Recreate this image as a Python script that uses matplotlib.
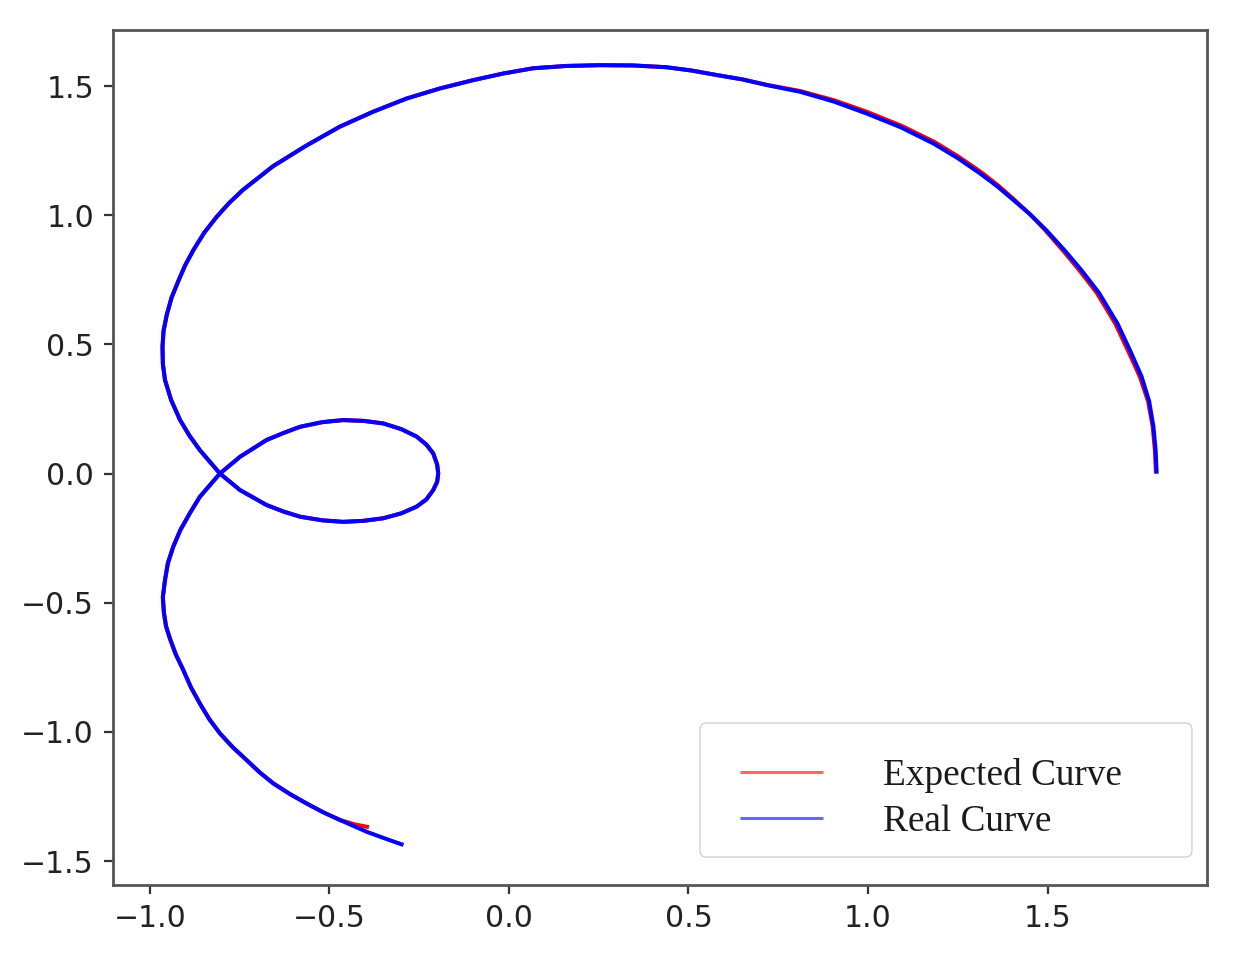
import matplotlib
matplotlib.use("Agg")
import matplotlib.pyplot as plt
from matplotlib.patches import FancyBboxPatch

# Real curve (blue)
real_x = [1.804, 1.801, 1.795, 1.783, 1.762, 1.732, 1.695, 1.643, 1.594, 1.547,
          1.496, 1.452, 1.405, 1.360, 1.312, 1.249, 1.182, 1.092, 0.996, 0.905,
          0.811, 0.718, 0.650, 0.578, 0.510, 0.439, 0.345, 0.253, 0.160, 0.067,
          -0.015, -0.100, -0.192, -0.285, -0.378, -0.471, -0.564, -0.657, -0.741, -0.779,
          -0.814, -0.849, -0.879, -0.902, -0.921, -0.940, -0.953, -0.962, -0.965, -0.964,
          -0.958, -0.941, -0.916, -0.890, -0.861, -0.805, -0.749, -0.675, -0.628, -0.582,
          -0.520, -0.462, -0.405, -0.350, -0.300, -0.257, -0.230, -0.211, -0.200, -0.197,
          -0.200, -0.211, -0.230, -0.257, -0.300, -0.350, -0.405, -0.462, -0.520, -0.582,
          -0.628, -0.675, -0.749, -0.805, -0.861, -0.889, -0.915, -0.935, -0.950, -0.958,
          -0.964, -0.961, -0.955, -0.944, -0.928, -0.907, -0.886, -0.861, -0.835, -0.805,
          -0.769, -0.731, -0.695, -0.657, -0.611, -0.564, -0.518, -0.471, -0.396, -0.345,
          -0.294]
real_y = [0.000, 0.090, 0.181, 0.280, 0.375, 0.470, 0.580, 0.700, 0.788, 0.865,
          0.943, 1.003, 1.059, 1.112, 1.162, 1.222, 1.278, 1.340, 1.394, 1.440,
          1.478, 1.504, 1.526, 1.543, 1.560, 1.573, 1.580, 1.581, 1.578, 1.569,
          1.549, 1.523, 1.491, 1.452, 1.401, 1.343, 1.270, 1.190, 1.098, 1.048,
          0.994, 0.932, 0.865, 0.806, 0.745, 0.680, 0.615, 0.553, 0.491, 0.425,
          0.362, 0.285, 0.207, 0.147, 0.091, 0.000, -0.064, -0.122, -0.147, -0.167,
          -0.181, -0.187, -0.183, -0.173, -0.154, -0.128, -0.100, -0.064, -0.032, 0.000,
          0.035, 0.078, 0.112, 0.143, 0.172, 0.194, 0.204, 0.207, 0.199, 0.181,
          0.157, 0.130, 0.065, 0.000, -0.090, -0.154, -0.218, -0.283, -0.347, -0.412,
          -0.478, -0.540, -0.592, -0.640, -0.700, -0.761, -0.827, -0.890, -0.950, -1.006,
          -1.060, -1.109, -1.156, -1.199, -1.240, -1.277, -1.311, -1.341, -1.387, -1.413,
          -1.438]

# Expected curve (red)
exp_x = [1.802, 1.799, 1.793, 1.780, 1.757, 1.726, 1.689, 1.637, 1.588, 1.542,
         1.493, 1.451, 1.406, 1.362, 1.315, 1.252, 1.185, 1.094, 0.998, 0.906,
         0.811, 0.718, 0.650, 0.578, 0.510, 0.439, 0.345, 0.253, 0.160, 0.067,
         -0.015, -0.100, -0.192, -0.285, -0.378, -0.471, -0.564, -0.657, -0.741, -0.779,
         -0.814, -0.849, -0.879, -0.902, -0.921, -0.940, -0.953, -0.962, -0.965, -0.964,
         -0.958, -0.941, -0.916, -0.890, -0.861, -0.805, -0.749, -0.675, -0.628, -0.582,
         -0.520, -0.462, -0.405, -0.350, -0.300, -0.257, -0.230, -0.211, -0.200, -0.197,
         -0.200, -0.211, -0.230, -0.257, -0.300, -0.350, -0.405, -0.462, -0.520, -0.582,
         -0.628, -0.675, -0.749, -0.805, -0.861, -0.889, -0.915, -0.935, -0.950, -0.958,
         -0.964, -0.961, -0.955, -0.944, -0.928, -0.907, -0.886, -0.861, -0.835, -0.805,
         -0.769, -0.731, -0.695, -0.657, -0.611, -0.564, -0.518, -0.471, -0.430, -0.390]
exp_y = [0.000, 0.090, 0.181, 0.280, 0.375, 0.470, 0.580, 0.700, 0.788, 0.865,
         0.943, 1.004, 1.062, 1.116, 1.167, 1.227, 1.284, 1.346, 1.400, 1.445,
         1.481, 1.505, 1.526, 1.543, 1.560, 1.573, 1.580, 1.581, 1.578, 1.569,
         1.549, 1.523, 1.491, 1.452, 1.401, 1.343, 1.270, 1.190, 1.098, 1.048,
         0.994, 0.932, 0.865, 0.806, 0.745, 0.680, 0.615, 0.553, 0.491, 0.425,
         0.362, 0.285, 0.207, 0.147, 0.091, 0.000, -0.064, -0.122, -0.147, -0.167,
         -0.181, -0.187, -0.183, -0.173, -0.154, -0.128, -0.100, -0.064, -0.032, 0.000,
         0.035, 0.078, 0.112, 0.143, 0.172, 0.194, 0.204, 0.207, 0.199, 0.181,
         0.157, 0.130, 0.065, 0.000, -0.090, -0.154, -0.218, -0.283, -0.347, -0.412,
         -0.478, -0.540, -0.592, -0.640, -0.700, -0.761, -0.827, -0.890, -0.950, -1.006,
         -1.060, -1.109, -1.156, -1.199, -1.240, -1.277, -1.311, -1.341, -1.358, -1.369]

labels = ["Expected Curve", "Real Curve"]
x_ticks = [-1.0, -0.5, 0.0, 0.5, 1.0, 1.5]
y_ticks = [-1.5, -1.0, -0.5, 0.0, 0.5, 1.0, 1.5]

fig = plt.figure(figsize=(12.48, 9.57), dpi=100)
ax = fig.add_axes([0.0905, 0.0752, 0.8766, 0.8934])

ax.plot(exp_x, exp_y, color="red", lw=2.9, label=labels[0],
        solid_joinstyle="round", solid_capstyle="butt")
ax.plot(real_x, real_y, color="blue", lw=2.9, label=labels[1],
        solid_joinstyle="round", solid_capstyle="butt")

ax.set_xlim(-1.103, 1.944)
ax.set_ylim(-1.593, 1.717)
ax.set_xticks(x_ticks)
ax.set_yticks(y_ticks)
ax.tick_params(labelsize=21.5, length=6.8, width=1.6, pad=6.8,
               colors="#333333", labelcolor="#222222")
for sp in ax.spines.values():
    sp.set_linewidth(2.0)
    sp.set_color("#555555")

# legend frame (drawn separately so the content can be placed freely inside it)
frame = FancyBboxPatch((0.5366, 0.0327), 0.4497, 0.1568,
                       boxstyle="round,pad=0,rounding_size=0.006",
                       mutation_aspect=1094 / 855,
                       transform=ax.transAxes, facecolor="white", alpha=0.9,
                       edgecolor="#cccccc", linewidth=1.0, zorder=4)
ax.add_patch(frame)

leg = ax.legend(loc="upper left", bbox_to_anchor=(0.5731, 0.1481),
                borderaxespad=0.0, borderpad=0.0, frameon=False,
                prop={"family": "Liberation Serif", "size": 26.8},
                labelspacing=0.31, handlelength=2.24, handletextpad=1.61)
leg.set_zorder(5)
for t in leg.get_texts():
    t.set_color("#1a1a1a")
for h in leg.get_lines():
    h.set_linewidth(2.2)
    h.set_alpha(0.6)

fig.savefig("out.png", dpi=100)
